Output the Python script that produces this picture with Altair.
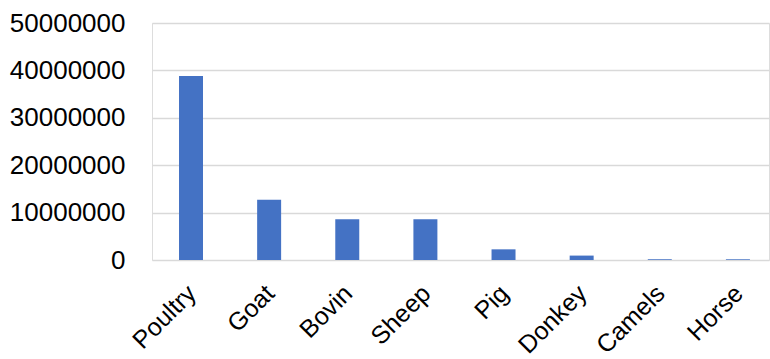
import altair as alt
import pandas as pd

categories = ["Poultry", "Goat", "Bovin", "Sheep", "Pig", "Donkey", "Camels", "Horse"]
values = [38800000, 12700000, 8600000, 8600000, 2250000, 930000, 150000, 150000]
y_ticks = [0, 10000000, 20000000, 30000000, 40000000, 50000000]

df = pd.DataFrame({"animal": categories, "count": values})

FONT = "Liberation Sans"

chart = alt.Chart(df).mark_bar(color="#4472C4").encode(
    x=alt.X(
        "animal:N",
        sort=categories,
        title=None,
        scale=alt.Scale(paddingInner=0.693, paddingOuter=0.295, align=0.586),
        axis=alt.Axis(
            labelAngle=-45,
            labelAlign="right",
            labelBaseline="middle",
            labelPadding=29,
            labelOffset=1,
            labelFont=FONT,
            labelFontSize=25,
            labelColor="#000000",
            labelOverlap=False,
            labelBound=False,
            ticks=False,
            tickSize=0,
            domain=False,
            grid=False,
        ),
    ),
    y=alt.Y(
        "count:Q",
        title=None,
        scale=alt.Scale(domain=[0, 50000000], nice=False),
        axis=alt.Axis(
            values=y_ticks,
            format="d",
            labelFont=FONT,
            labelFontSize=26,
            labelColor="#000000",
            labelPadding=27,
            ticks=False,
            tickSize=0,
            domain=False,
            grid=True,
            gridColor="#d9d9d9",
            gridWidth=1.5,
        ),
    ),
).properties(
    width=617,
    height=237,
    autosize=alt.AutoSizeParams(type="none"),
    padding={"left": 152, "top": 23, "right": 1, "bottom": 99},
).configure_view(stroke=None).configure(background="white")

chart.save("out.html", embed_options={"renderer": "svg", "actions": False})
